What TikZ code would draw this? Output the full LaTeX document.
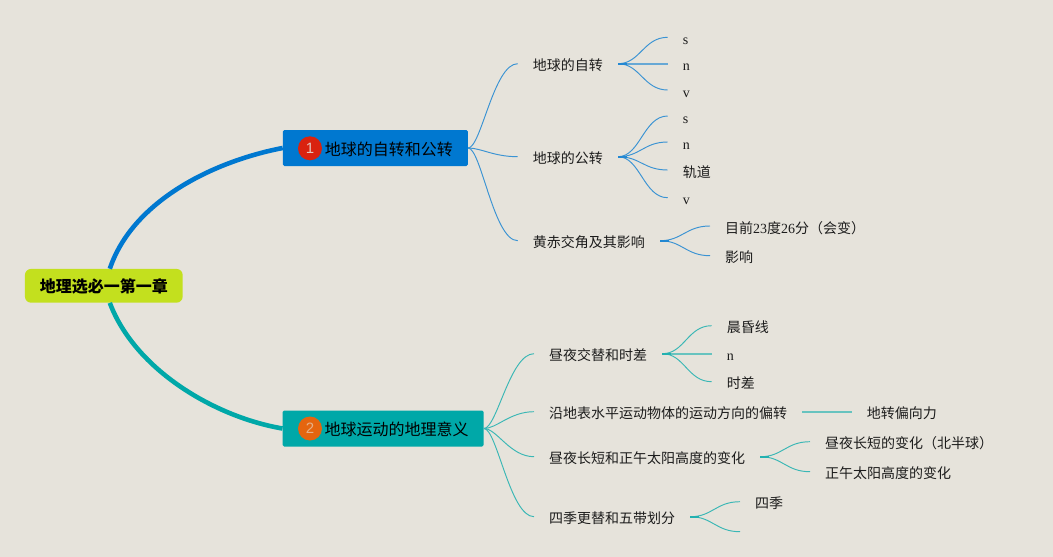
\documentclass[tikz,border=0pt]{standalone}
\usepackage{fontspec}
\setmainfont{Liberation Serif}
\setsansfont{Liberation Sans}
\newfontfamily\cjk{Noto Sans CJK SC}
\definecolor{bgc}{HTML}{E6E3DB}
\definecolor{bluec}{HTML}{0078D0}
\definecolor{tealc}{HTML}{00A8A8}
\definecolor{rootc}{HTML}{C3E01E}
\definecolor{redc}{HTML}{D9230F}
\definecolor{orangec}{HTML}{E5650F}
\definecolor{txt}{HTML}{1C1C1C}
\tikzset{
  rootbox/.style={fill=rootc,rounded corners=6pt,minimum width=157.7pt,minimum height=33.7pt,inner sep=0pt,text height=16pt,text depth=2pt,text=black,font=\fontsize{16}{18}\selectfont\cjk\bfseries},
  mainbox/.style={anchor=west,rounded corners=1.5pt,minimum height=36pt,inner xsep=15pt,inner ysep=0pt,text height=16pt,text depth=2pt,text=black,font=\fontsize{16}{18}\selectfont\cjk},
  badge/.style={circle,minimum size=24pt,inner sep=0pt,font=\fontsize{15}{15}\selectfont\sffamily},
  leaf/.style={anchor=west,inner xsep=15pt,inner ysep=0pt,text height=16pt,text depth=2pt,text=txt,font=\fontsize{14}{16}\selectfont},
  trunkb/.style={draw=bluec,line width=4.6pt},
  trunkt/.style={draw=tealc,line width=4.6pt},
  thinb/.style={draw=bluec!75!bgc,line width=.95pt},
  thint/.style={draw=tealc!75!bgc,line width=.95pt},
  stemb/.style={draw=bluec!85!bgc,line width=1.8pt},
  stemt/.style={draw=tealc!85!bgc,line width=1.8pt},
  flatb/.style={draw=bluec!55!bgc,line width=1.6pt},
  flatt/.style={draw=tealc!55!bgc,line width=1.6pt},
}
\begin{document}
\begin{tikzpicture}[x=1pt,y=-1pt]
\fill[bgc] (0,0) rectangle (1053,557);
\useasboundingbox (0,0) rectangle (1053,557);

% root and main branches
\node[rootbox] (root) at (103.8,285.8) {地理选必一第一章};
\node[mainbox,fill=bluec] (b1) at (282.7,148) {\hspace*{27pt}地球的自转和公转};
\node[mainbox,fill=tealc] (b2) at (282.5,428.5) {\hspace*{27pt}地球运动的地理意义};
\node[badge,fill=redc,text=bgc!85!redc] (i1) at (310,148.3) {1};
\node[badge,fill=orangec,text=bgc!60!orangec] (i2) at (310,428.5) {2};
\draw[trunkb] ([xshift=6pt]root.north) .. controls (133,200) and (215,161) .. (b1.west);
\draw[trunkt] ([xshift=6pt]root.south) .. controls (135,370) and (215,417) .. (b2.west);

% first group
\node[leaf] (a1) at (517.7,63.7) {\cjk 地球的自转};
\node[leaf] (a2) at (517.7,156.7) {\cjk 地球的公转};
\node[leaf] (a3) at (517.7,240.7) {\cjk 黄赤交角及其影响};
\node[leaf] (a1s) at (667.7,37.3) {s};
\node[leaf] (a1n) at (667.7,63.7) {n};
\node[leaf] (a1v) at (667.7,90) {v};
\node[leaf] (a2s) at (667.7,116) {s};
\node[leaf] (a2n) at (667.7,142) {n};
\node[leaf] (a2o) at (667.7,170) {\cjk 轨道};
\node[leaf] (a2v) at (667.7,197.7) {v};
\node[leaf] (a3m) at (710,226) {{\cjk 目前}23{\cjk 度}26{\cjk 分（会变）}};
\node[leaf] (a3y) at (710,255.7) {\cjk 影响};

\foreach \t in {a1,a2,a3}
  \draw[thinb] (b1.east) .. controls +(13,0) and +(-24,0) .. (\t.west);
\path (a1.east) ++(9,0) coordinate (fa1);
\path (a2.east) ++(9,0) coordinate (fa2);
\path (a3.east) ++(9,0) coordinate (fa3);
\foreach \t in {a1s,a1v}
  \draw[thinb] (a1.east) .. controls +(22,0) and +(-24,0) .. (\t.west);
\draw[flatb] (a1.east) -- (a1n.west);
\foreach \t in {a2s,a2n,a2o,a2v}
  \draw[thinb] (a2.east) .. controls +(22,0) and +(-24,0) .. (\t.west);
\foreach \t in {a3m,a3y}
  \draw[thinb] (a3.east) .. controls +(22,0) and +(-24,0) .. (\t.west);
\draw[stemb] (a1.east) -- (fa1);
\draw[stemb] (a2.east) -- (fa2);
\draw[stemb] (a3.east) -- (fa3);

% second group
\node[leaf] (c1) at (534,353.7) {\cjk 昼夜交替和时差};
\node[leaf] (c2) at (534,411.7) {\cjk 沿地表水平运动物体的运动方向的偏转};
\node[leaf] (c3) at (534,456.7) {\cjk 昼夜长短和正午太阳高度的变化};
\node[leaf] (c4) at (534,516.7) {\cjk 四季更替和五带划分};
\node[leaf] (c1a) at (711.7,325.7) {\cjk 晨昏线};
\node[leaf] (c1n) at (711.7,353.7) {n};
\node[leaf] (c1t) at (711.7,381.7) {\cjk 时差};
\node[leaf] (c2a) at (851.7,411.7) {\cjk 地转偏向力};
\node[leaf] (c3a) at (810,441.7) {\cjk 昼夜长短的变化（北半球）};
\node[leaf] (c3b) at (810,471.7) {\cjk 正午太阳高度的变化};
\node[leaf] (c4a) at (740,501.7) {\cjk 四季};
\coordinate (c4b) at (740,531.7);

\foreach \t in {c1,c2,c3,c4}
  \draw[thint] (b2.east) .. controls +(13,0) and +(-24,0) .. (\t.west);
\path (c1.east) ++(9,0) coordinate (fc1);
\path (c3.east) ++(9,0) coordinate (fc3);
\path (c4.east) ++(9,0) coordinate (fc4);
\foreach \t in {c1a,c1t}
  \draw[thint] (c1.east) .. controls +(22,0) and +(-24,0) .. (\t.west);
\draw[flatt] (c1.east) -- (c1n.west);
\draw[flatt] (c2.east) -- (c2a.west);
\foreach \t in {c3a,c3b}
  \draw[thint] (c3.east) .. controls +(22,0) and +(-24,0) .. (\t.west);
\draw[thint] (c4.east) .. controls +(22,0) and +(-24,0) .. (c4a.west);
\draw[thint] (c4.east) .. controls +(22,0) and +(-24,0) .. (c4b);
\draw[stemt] (c1.east) -- (fc1);
\draw[stemt] (c3.east) -- (fc3);
\draw[stemt] (c4.east) -- (fc4);
\end{tikzpicture}
\end{document}
